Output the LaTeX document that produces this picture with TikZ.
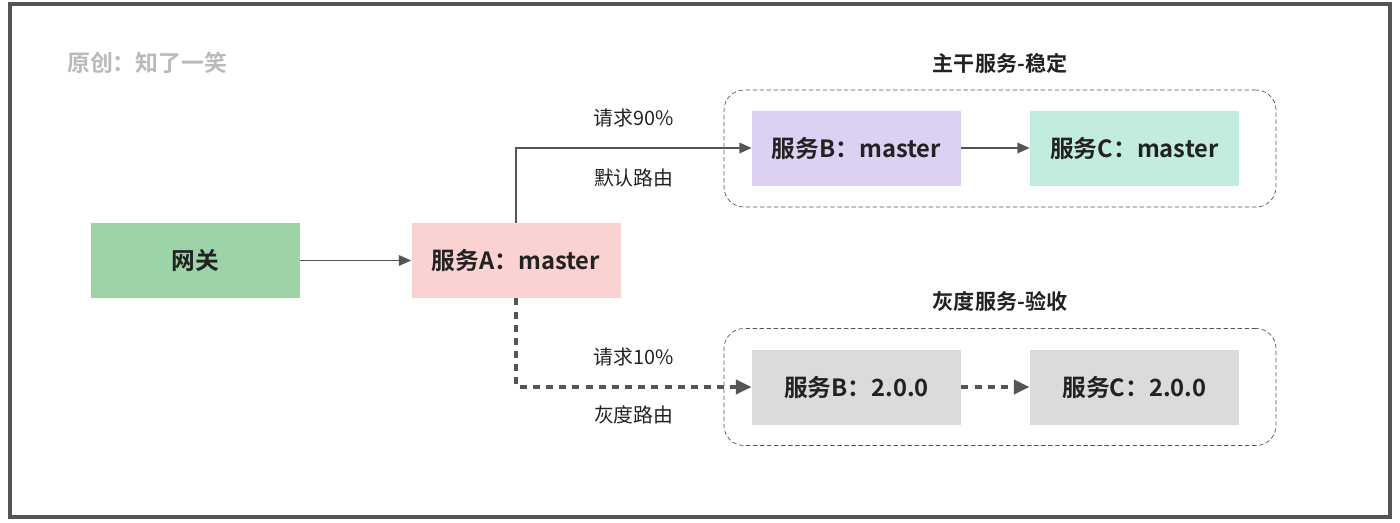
\documentclass[tikz,border=0pt]{standalone}
\usepackage{fontspec}
\setmainfont{Noto Sans CJK SC}[BoldFont={* Bold}]
\usepackage{xcolor}
\usepackage{tikz}
\usetikzlibrary{arrows.meta,positioning,calc}

\definecolor{gwgreen}{RGB}{157,212,167}
\definecolor{svcpink}{RGB}{250,210,210}
\definecolor{svcpurple}{RGB}{220,208,243}
\definecolor{svcteal}{RGB}{195,236,224}
\definecolor{svcgray}{RGB}{219,219,219}
\definecolor{lnk}{RGB}{85,85,85}
\definecolor{txt}{RGB}{34,34,34}

\begin{document}
\begin{tikzpicture}[
    svc/.style={rectangle,minimum width=4.18cm,minimum height=1.5cm,inner sep=0pt,
        font=\fontsize{13.5}{16}\selectfont\bfseries,text=txt},
    grp/.style={rectangle,draw=lnk,dashed,dash pattern=on 2.5pt off 1.5pt,
        rounded corners=0.4cm,minimum width=11.04cm,minimum height=2.34cm,thin},
    ttl/.style={font=\fontsize{12}{14}\selectfont\bfseries,text=txt},
    lbl/.style={font=\fontsize{11.3}{13}\selectfont,text=txt},
    lnkarrow/.style={draw=lnk,line width=1pt,-{Triangle[length=7pt,width=6pt]}},
    grayarrow/.style={draw=lnk,line width=2.1pt,dash pattern=on 4pt off 3.5pt,
        -{Triangle[length=9pt,width=8pt]}}
]
    \useasboundingbox (0,0) rectangle (28,-10.44);
    % Frame
    \draw[lnk,line width=2.2pt] (0.2,-0.08) rectangle (27.8,-10.34);
    \node[anchor=west,font=\fontsize{13}{15}\selectfont\bfseries,text=black!27] (wm) at (1.22,-1.26) {原创：知了一笑};

    % Groups
    \node[grp] (grp1) at (20,-2.97) {};
    \node[grp] (grp2) at (20,-7.74) {};
    \node[ttl] (ttl1) at (20,-1.26) {主干服务-稳定};
    \node[ttl] (ttl2) at (20,-6.02) {灰度服务-验收};

    % Gateway and service A
    \node[svc,fill=gwgreen] (gw) at (3.91,-5.21) {网关};
    \node[svc,fill=svcpink] (sa) at (10.32,-5.21) {服务A：master};

    % Services B and C
    \foreach \r/\y/\v/\cb/\cc in {1/-2.96/master/svcpurple/svcteal,2/-7.74/2.0.0/svcgray/svcgray} {
        \node[svc,fill=\cb] (sb\r) at (17.13,\y) {服务B：\v};
        \node[svc,fill=\cc] (sc\r) at (22.69,\y) {服务C：\v};
    }

    % Connections
    \draw[lnkarrow] (gw) -- (sa);
    \draw[lnkarrow] (sa.north) |- (sb1.west)
        node[lbl,pos=0.75,yshift=0.6cm] {请求90\%}
        node[lbl,pos=0.75,yshift=-0.6cm] {默认路由};
    \draw[lnkarrow] (sb1) -- (sc1);
    \draw[grayarrow] (sa.south) |- (sb2.west)
        node[lbl,pos=0.75,yshift=0.6cm] {请求10\%}
        node[lbl,pos=0.75,yshift=-0.56cm] {灰度路由};
    \draw[grayarrow] (sb2) -- (sc2);
\end{tikzpicture}
\end{document}
